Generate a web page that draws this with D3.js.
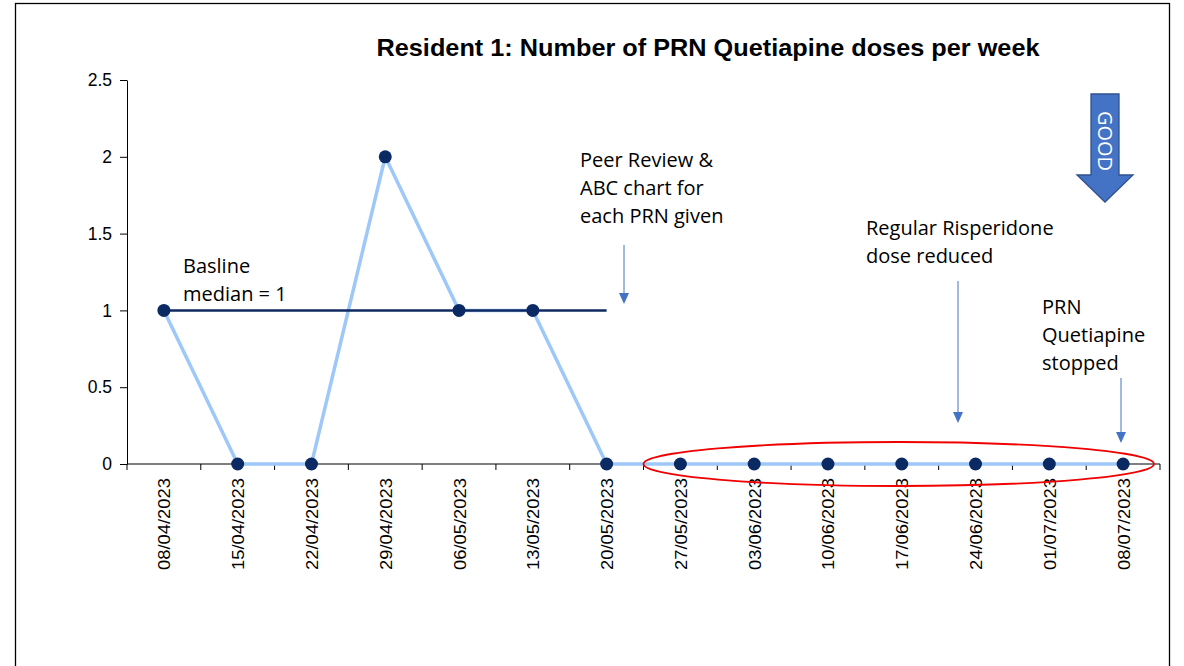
<!DOCTYPE html>
<html>
<head>
<meta charset="utf-8">
<script src="https://cdn.jsdelivr.net/npm/d3@7"></script>
<style>
  body { margin: 0; background: #fff; }
  svg { display: block; font-family: "Liberation Sans", Arial, sans-serif; }
  .note { font-family: "Open Sans", "Noto Sans", sans-serif; font-size: 20px; fill: #000; }
</style>
</head>
<body>
<div id="chart"></div>
<script>
// weekly data
var weeks = ["08/04/2023", "15/04/2023", "22/04/2023", "29/04/2023", "06/05/2023", "13/05/2023", "20/05/2023",
             "27/05/2023", "03/06/2023", "10/06/2023", "17/06/2023", "24/06/2023", "01/07/2023", "08/07/2023"];
var doses = [1, 0, 0, 2, 1, 1, 0, 0, 0, 0, 0, 0, 0, 0];
var yTicks = [0, 0.5, 1, 1.5, 2, 2.5];
var medianValue = 1;
var medianWeeks = ["08/04/2023", "20/05/2023"];

var svgWidth = 1184;
var svgHeight = 666;

var margin = { top: 80, right: 24, bottom: 202, left: 127 };
var width = 1160 - margin.left;
var height = 464 - margin.top;

var svg = d3.select("#chart")
    .append("svg")
    .attr("width", svgWidth)
    .attr("height", svgHeight);

// outer frame
svg.append("rect")
    .attr("x", 15.5).attr("y", 3.5)
    .attr("width", 1154).attr("height", 700)
    .attr("fill", "none").attr("stroke", "#000").attr("stroke-width", 1.3);

svg.append("text")
    .attr("x", 708).attr("y", 56)
    .attr("text-anchor", "middle")
    .attr("font-weight", "bold")
    .attr("font-size", 23.5)
    .attr("textLength", 663)
    .attr("lengthAdjust", "spacingAndGlyphs")
    .text("Resident 1: Number of PRN Quetiapine doses per week");

var chartGroup = svg.append("g")
    .attr("transform", `translate(${margin.left}, ${margin.top})`);

var x = d3.scaleBand().domain(weeks).range([0, width]);
var y = d3.scaleLinear().domain([0, 2.5]).range([height, 0]);
var cx = d => x(d) + x.bandwidth() / 2;

// y axis
var leftAxis = d3.axisLeft(y).tickValues(yTicks).tickSizeInner(7).tickSizeOuter(0).tickPadding(8)
    .tickFormat(d => d);
var yg = chartGroup.append("g").call(leftAxis);
yg.selectAll("text").attr("font-size", 17.5).attr("fill", "#000");
yg.selectAll("line, path").attr("stroke", "#000");

// x axis with ticks between categories
var xg = chartGroup.append("g").attr("transform", `translate(0, ${height})`);
xg.append("line").attr("x1", 0).attr("x2", width).attr("stroke", "#000").attr("stroke-width", 1.2);
xg.selectAll(".tk")
    .data(d3.range(weeks.length + 1))
    .enter().append("line")
    .attr("x1", i => i * x.bandwidth()).attr("x2", i => i * x.bandwidth())
    .attr("y1", 0).attr("y2", 6)
    .attr("stroke", "#000");
xg.selectAll(".lbl")
    .data(weeks)
    .enter().append("text")
    .attr("transform", d => `translate(${cx(d) + 6.5}, 14) rotate(-90)`)
    .attr("text-anchor", "end")
    .attr("font-size", 17)
    .attr("textLength", 92)
    .attr("lengthAdjust", "spacingAndGlyphs")
    .attr("fill", "#000")
    .text(d => d);

// series line
var line = d3.line().x((d, i) => cx(weeks[i])).y(d => y(d));
chartGroup.append("path")
    .datum(doses)
    .attr("d", line)
    .attr("fill", "none")
    .attr("stroke", "#9DC8F8")
    .attr("stroke-width", 3.5);

// median line
chartGroup.append("line")
    .attr("x1", cx(medianWeeks[0])).attr("x2", cx(medianWeeks[1]))
    .attr("y1", y(medianValue)).attr("y2", y(medianValue))
    .attr("stroke", "#0F2A60").attr("stroke-width", 2.5);

// points
chartGroup.selectAll("circle")
    .data(doses)
    .enter().append("circle")
    .attr("cx", (d, i) => cx(weeks[i]))
    .attr("cy", d => y(d))
    .attr("r", 6.5)
    .attr("fill", "#0B2A63");

// red ellipse round the zero run
var e0 = cx("27/05/2023") - x.bandwidth() / 2;
var e1 = x.range()[1];
chartGroup.append("ellipse")
    .attr("cx", (e0 + e1) / 2 - 3).attr("cy", y(0))
    .attr("rx", (e1 - e0) / 2 - 3).attr("ry", 22)
    .attr("fill", "none").attr("stroke", "#F00000").attr("stroke-width", 1.8);

// annotations
var notes = [
    { x: 183, y: 273, lines: ["Basline", "median = 1"] },
    { x: 580, y: 167, lines: ["Peer Review &", "ABC chart for", "each PRN given"] },
    { x: 866, y: 235, lines: ["Regular Risperidone", "dose reduced"] },
    { x: 1042, y: 314, lines: ["PRN", "Quetiapine", "stopped"] }
];
notes.forEach(function(n) {
    var t = svg.append("text").attr("class", "note").attr("x", n.x).attr("y", n.y);
    n.lines.forEach(function(l, i) {
        t.append("tspan").attr("x", n.x).attr("dy", i ? 28 : 0).text(l);
    });
});

var arrows = [
    { x: 624, y1: 245, y2: 304 },
    { x: 958, y1: 281, y2: 423 },
    { x: 1121, y1: 378, y2: 443 }
];
arrows.forEach(function(a) {
    svg.append("line")
        .attr("x1", a.x).attr("x2", a.x).attr("y1", a.y1).attr("y2", a.y2 - 10)
        .attr("stroke", "#4472C4").attr("stroke-width", 1);
    svg.append("path")
        .attr("d", `M${a.x - 5},${a.y2 - 11} L${a.x + 5},${a.y2 - 11} L${a.x},${a.y2} Z`)
        .attr("fill", "#4472C4");
});

// GOOD arrow
svg.append("path")
    .attr("d", "M1091,94 L1119,94 L1119,175 L1133,175 L1105,202 L1077,175 L1091,175 Z")
    .attr("fill", "#4472C4").attr("stroke", "#2F528F").attr("stroke-width", 1.3);
svg.append("text")
    .attr("transform", "translate(1098, 141) rotate(90)")
    .attr("text-anchor", "middle")
    .attr("font-family", "Open Sans, sans-serif")
    .attr("font-size", 20)
    .attr("fill", "#fff")
    .text("GOOD");
</script>
</body>
</html>
